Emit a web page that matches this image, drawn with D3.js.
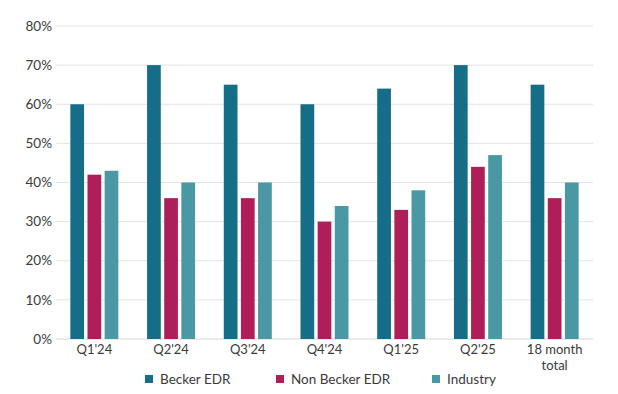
<!DOCTYPE html>
<html>
<head>
<meta charset="utf-8">
<script src="https://cdn.jsdelivr.net/npm/d3@7"></script>
<style>
  body { margin: 0; background: #fff; }
  text { font-family: "Lato", "Noto Sans", sans-serif; fill: #3a3a3a; }
</style>
</head>
<body>
<div id="chart"></div>
<script>
// chart data
var categories = ["Q1'24", "Q2'24", "Q3'24", "Q4'24", "Q1'25", "Q2'25", "18 month total"];
var seriesNames = ['Becker EDR', 'Non Becker EDR', 'Industry'];
var becker = [60, 70, 65, 60, 64, 70, 65];
var nonBecker = [42, 36, 36, 30, 33, 44, 36];
var industry = [43, 40, 40, 34, 38, 47, 40];
var yTicks = [0, 10, 20, 30, 40, 50, 60, 70, 80];
var colors = ['#156d87', '#b01e5a', '#4a98a3'];

var width = 618, height = 394;
var margin = {top: 26, right: 25, bottom: 55, left: 56};

var svg = d3.select('#chart')
  .append('svg')
  .attr('width', width)
  .attr('height', height);

var x = d3.scaleBand()
  .domain(categories)
  .range([margin.left, width - margin.right]);

var x1 = d3.scaleBand()
  .domain(seriesNames)
  .range([x.bandwidth() / 2 - 24, x.bandwidth() / 2 + 24])
  .paddingInner(0.2);

var y = d3.scaleLinear()
  .domain([0, 80])
  .range([height - margin.bottom, margin.top]);

// gridlines
svg.append('g')
  .selectAll('line')
  .data(yTicks)
  .enter().append('line')
  .attr('x1', margin.left)
  .attr('x2', width - margin.right)
  .attr('y1', function(d) { return y(d); })
  .attr('y2', function(d) { return y(d); })
  .attr('stroke', function(d) { return d === 0 ? '#d6d6d6' : '#e4e4e4'; })
  .attr('stroke-width', 1);

// y labels
svg.append('g')
  .selectAll('text')
  .data(yTicks)
  .enter().append('text')
  .attr('x', margin.left - 4)
  .attr('y', function(d) { return y(d); })
  .attr('dy', '0.35em')
  .attr('text-anchor', 'end')
  .style('font-size', '13.5px')
  .text(function(d) { return d + '%'; });

var rows = categories.map(function(c, i) {
  return {cat: c, vals: [becker[i], nonBecker[i], industry[i]]};
});

var groups = svg.append('g')
  .selectAll('g')
  .data(rows)
  .enter().append('g')
  .attr('transform', function(d) { return 'translate(' + x(d.cat) + ',0)'; });

groups.selectAll('rect')
  .data(function(d) { return d.vals.map(function(v, j) { return {name: seriesNames[j], value: v, j: j}; }); })
  .enter().append('rect')
  .attr('x', function(d) { return x1(d.name); })
  .attr('width', x1.bandwidth())
  .attr('y', function(d) { return y(d.value); })
  .attr('height', function(d) { return y(0) - y(d.value); })
  .attr('fill', function(d) { return colors[d.j]; });

// x labels (the last one wraps onto two lines, one text per line)
var xLines = [];
categories.forEach(function(c) {
  var parts = c === '18 month total' ? ['18 month', 'total'] : [c];
  parts.forEach(function(p, k) { xLines.push({cat: c, text: p, line: k}); });
});

svg.append('g')
  .selectAll('text')
  .data(xLines)
  .enter().append('text')
  .attr('x', function(d) { return x(d.cat) + x.bandwidth() / 2; })
  .attr('y', function(d) { return 354 + d.line * 15.5; })
  .attr('text-anchor', 'middle')
  .style('font-size', '13px')
  .text(function(d) { return d.text; });

// legend
var legendX = [145, 276, 432];
var legend = svg.append('g')
  .selectAll('g')
  .data(seriesNames)
  .enter().append('g')
  .attr('transform', function(d, i) { return 'translate(' + legendX[i] + ',379)'; });

legend.append('rect')
  .attr('x', 0)
  .attr('y', -4)
  .attr('width', 8)
  .attr('height', 8)
  .attr('fill', function(d, i) { return colors[i]; });

legend.append('text')
  .attr('x', 15)
  .attr('dy', '0.35em')
  .style('font-size', '13.5px')
  .text(function(d) { return d; });
</script>
</body>
</html>
